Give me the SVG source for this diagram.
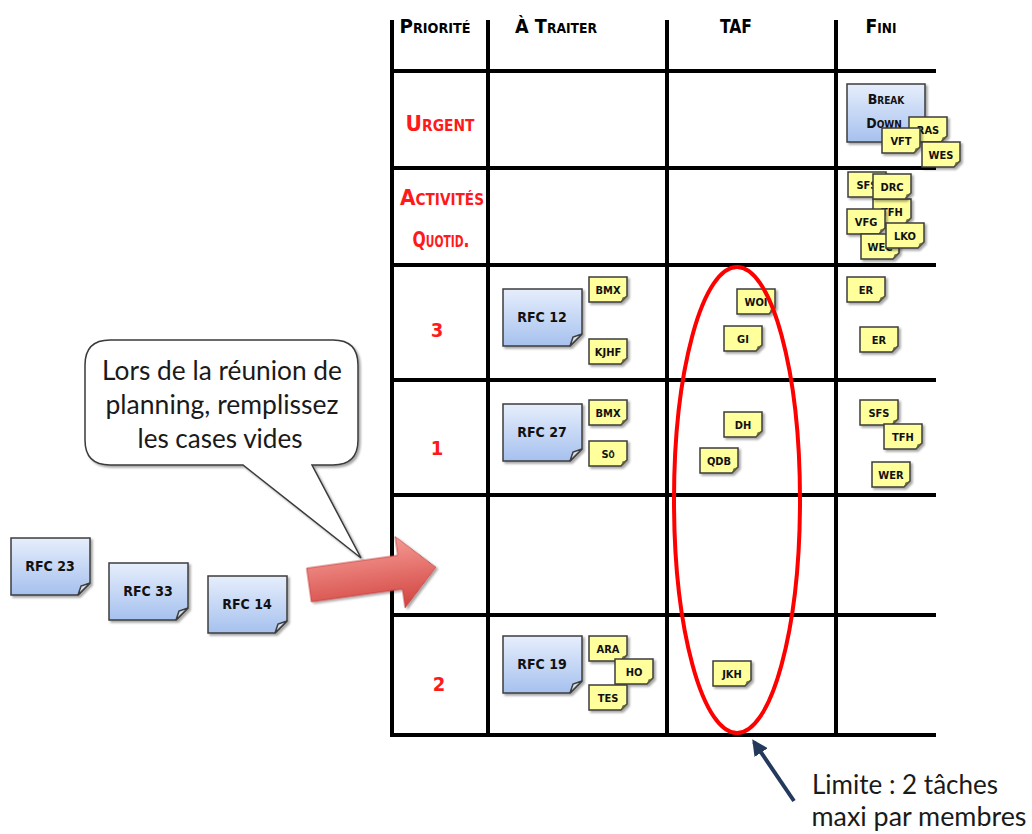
<svg xmlns="http://www.w3.org/2000/svg" xmlns:xlink="http://www.w3.org/1999/xlink" width="1032" height="834" viewBox="0 0 1032 834">
  <style>
    .grid { stroke: #000; stroke-width: 4; stroke-linecap: square; fill: none; }
    .hand { font-family: "DejaVu Sans Condensed", "DejaVu Sans", sans-serif; font-weight: bold; font-variant: small-caps; text-anchor: middle; }
    .head { font-size: 20px; fill: #000; }
    .prio { font-size: 22px; fill: #ff1a1a; }
    .num { font-size: 20px; fill: #ff1a1a; }
    .rfc { font-size: 14px; fill: #111; }
    .tag { font-size: 11px; fill: #111; }
    .note { font-family: "Lato", "Open Sans", sans-serif; font-size: 26px; fill: #1a1a1a; text-anchor: middle; }
    .body { stroke: #3c3c3c; stroke-width: 1.5; }
  </style>
  <defs>
    <linearGradient id="blueFill" x1="0" y1="0" x2="0" y2="1">
      <stop offset="0" stop-color="#e6eefc"/>
      <stop offset="1" stop-color="#a6c1ee"/>
    </linearGradient>
    <linearGradient id="redFill" x1="0" y1="0" x2="0" y2="1">
      <stop offset="0" stop-color="#f59a94"/>
      <stop offset="1" stop-color="#d2433f"/>
    </linearGradient>
    <filter id="shadow" x="-20%" y="-20%" width="150%" height="150%">
      <feDropShadow dx="2" dy="2" stdDeviation="1.2" flood-color="#000" flood-opacity="0.35"/>
    </filter>
    <!-- blue request card with a folded corner -->
    <g id="blueCard">
      <path class="body" d="M0,0 H79 V45 L67,57 H0 Z" fill="url(#blueFill)"/>
      <path class="body" d="M67,57 L79,45 L70,48 Z" fill="#d6deea" stroke-width="1"/>
    </g>
    <g id="bigCard">
      <path class="body" d="M0,0 H78 V46 L66,58 H0 Z" fill="url(#blueFill)"/>
      <path class="body" d="M66,58 L78,46 L69,49 Z" fill="#d6deea" stroke-width="1"/>
    </g>
    <!-- yellow member tag -->
    <g id="tag">
      <path class="body" d="M0,0 H38 V19 L32,25 H0 Z" fill="#ffff9c" stroke-width="1.2"/>
      <path d="M32,25 L38,19 L33.5,20.5 Z" fill="#6b6b40"/>
    </g>
    <marker id="navyHead" viewBox="0 0 10 10" refX="8" refY="5" markerWidth="4" markerHeight="4" orient="auto">
      <path d="M0,0 L10,5 L0,10 Z" fill="#243a5c"/>
    </marker>
  </defs>

  <!-- board grid -->
  <g id="grid" class="grid">
    <line x1="392" y1="22" x2="392" y2="735"/>
    <line x1="488" y1="22" x2="488" y2="735"/>
    <line x1="667" y1="22" x2="667" y2="735"/>
    <line x1="836" y1="22" x2="836" y2="735"/>
    <line x1="392" y1="71" x2="934" y2="71"/>
    <line x1="392" y1="168" x2="934" y2="168"/>
    <line x1="392" y1="265" x2="934" y2="265"/>
    <line x1="392" y1="380" x2="934" y2="380"/>
    <line x1="392" y1="495" x2="934" y2="495"/>
    <line x1="392" y1="615" x2="934" y2="615"/>
    <line x1="392" y1="735" x2="934" y2="735"/>
  </g>

  <!-- column headers -->
  <g id="headers" class="hand head">
    <text x="435" y="33" textLength="71" lengthAdjust="spacingAndGlyphs">Priorité</text>
    <text x="556" y="33" textLength="82" lengthAdjust="spacingAndGlyphs">À Traiter</text>
    <text x="736" y="33" textLength="32" lengthAdjust="spacingAndGlyphs">TAF</text>
    <text x="881" y="33" textLength="31" lengthAdjust="spacingAndGlyphs">Fini</text>
  </g>

  <!-- priority labels -->
  <g id="priorities" class="hand">
    <text class="prio" x="440" y="131" textLength="69" lengthAdjust="spacingAndGlyphs">Urgent</text>
    <text class="prio" x="442" y="205" textLength="84" lengthAdjust="spacingAndGlyphs">Activités</text>
    <text class="prio" x="441" y="247" textLength="57" lengthAdjust="spacingAndGlyphs">Quotid.</text>
    <text class="num" x="437" y="337">3</text>
    <text class="num" x="437" y="455">1</text>
    <text class="num" x="439" y="691">2</text>
  </g>

  <!-- request cards -->
  <g id="rfc12" transform="translate(503,289)"><use xlink:href="#blueCard" filter="url(#shadow)"/><text class="hand rfc" x="39" y="33">RFC 12</text></g>
  <g id="rfc27" transform="translate(503,404)"><use xlink:href="#blueCard" filter="url(#shadow)"/><text class="hand rfc" x="39" y="33">RFC 27</text></g>
  <g id="rfc19" transform="translate(503,636)"><use xlink:href="#blueCard" filter="url(#shadow)"/><text class="hand rfc" x="39" y="33">RFC 19</text></g>
  <g id="rfc23" transform="translate(11,538)"><use xlink:href="#blueCard" filter="url(#shadow)"/><text class="hand rfc" x="39" y="33">RFC 23</text></g>
  <g id="rfc33" transform="translate(109,563)"><use xlink:href="#blueCard" filter="url(#shadow)"/><text class="hand rfc" x="39" y="33">RFC 33</text></g>
  <g id="rfc14" transform="translate(208,576)"><use xlink:href="#blueCard" filter="url(#shadow)"/><text class="hand rfc" x="39" y="33">RFC 14</text></g>
  <g id="breakdown" transform="translate(847,84)"><use xlink:href="#bigCard" filter="url(#shadow)"/><text class="hand rfc" x="39" y="20">Break</text><text class="hand rfc" x="37" y="44">Down</text></g>

  <!-- member tags: Fini / Urgent -->
  <g id="fu-ras" transform="translate(909,117)"><use xlink:href="#tag" filter="url(#shadow)"/><text class="hand tag" x="19" y="17">RAS</text></g>
  <g id="fu-vft" transform="translate(882,128)"><use xlink:href="#tag" filter="url(#shadow)"/><text class="hand tag" x="19" y="17">VFT</text></g>
  <g id="fu-wes" transform="translate(922,142)"><use xlink:href="#tag" filter="url(#shadow)"/><text class="hand tag" x="19" y="17">WES</text></g>

  <!-- member tags: Fini / daily activities -->
  <g id="fa-sfs" transform="translate(848,172)"><use xlink:href="#tag" filter="url(#shadow)"/><text class="hand tag" x="19" y="17">SFS</text></g>
  <g id="fa-tfh" transform="translate(873,199)"><use xlink:href="#tag" filter="url(#shadow)"/><text class="hand tag" x="19" y="17">TFH</text></g>
  <g id="fa-drc" transform="translate(873,174)"><use xlink:href="#tag" filter="url(#shadow)"/><text class="hand tag" x="19" y="17">DRC</text></g>
  <g id="fa-vfg" transform="translate(847,209)"><use xlink:href="#tag" filter="url(#shadow)"/><text class="hand tag" x="19" y="17">VFG</text></g>
  <g id="fa-wec" transform="translate(861,234)"><use xlink:href="#tag" filter="url(#shadow)"/><text class="hand tag" x="19" y="17">WEC</text></g>
  <g id="fa-lko" transform="translate(886,223)"><use xlink:href="#tag" filter="url(#shadow)"/><text class="hand tag" x="19" y="17">LKO</text></g>

  <!-- member tags: priority 3 -->
  <g id="p3-bmx" transform="translate(589,277)"><use xlink:href="#tag" filter="url(#shadow)"/><text class="hand tag" x="19" y="17">BMX</text></g>
  <g id="p3-kjhf" transform="translate(589,339)"><use xlink:href="#tag" filter="url(#shadow)"/><text class="hand tag" x="19" y="17">KJHF</text></g>
  <g id="p3-woi" transform="translate(737,289)"><use xlink:href="#tag" filter="url(#shadow)"/><text class="hand tag" x="19" y="17">WOI</text></g>
  <g id="p3-gi" transform="translate(724,326)"><use xlink:href="#tag" filter="url(#shadow)"/><text class="hand tag" x="19" y="17">GI</text></g>
  <g id="p3-er1" transform="translate(847,277)"><use xlink:href="#tag" filter="url(#shadow)"/><text class="hand tag" x="19" y="17">ER</text></g>
  <g id="p3-er2" transform="translate(860,327)"><use xlink:href="#tag" filter="url(#shadow)"/><text class="hand tag" x="19" y="17">ER</text></g>

  <!-- member tags: priority 1 -->
  <g id="p1-bmx" transform="translate(589,400)"><use xlink:href="#tag" filter="url(#shadow)"/><text class="hand tag" x="19" y="17">BMX</text></g>
  <g id="p1-so" transform="translate(589,441)"><use xlink:href="#tag" filter="url(#shadow)"/><text class="hand tag" x="19" y="17">Sö</text></g>
  <g id="p1-dh" transform="translate(724,412)"><use xlink:href="#tag" filter="url(#shadow)"/><text class="hand tag" x="19" y="17">DH</text></g>
  <g id="p1-qdb" transform="translate(700,448)"><use xlink:href="#tag" filter="url(#shadow)"/><text class="hand tag" x="19" y="17">QDB</text></g>
  <g id="p1-sfs" transform="translate(860,400)"><use xlink:href="#tag" filter="url(#shadow)"/><text class="hand tag" x="19" y="17">SFS</text></g>
  <g id="p1-tfh" transform="translate(884,424)"><use xlink:href="#tag" filter="url(#shadow)"/><text class="hand tag" x="19" y="17">TFH</text></g>
  <g id="p1-wer" transform="translate(872,462)"><use xlink:href="#tag" filter="url(#shadow)"/><text class="hand tag" x="19" y="17">WER</text></g>

  <!-- member tags: priority 2 -->
  <g id="p2-ara" transform="translate(589,636)"><use xlink:href="#tag" filter="url(#shadow)"/><text class="hand tag" x="19" y="17">ARA</text></g>
  <g id="p2-ho" transform="translate(615,659)"><use xlink:href="#tag" filter="url(#shadow)"/><text class="hand tag" x="19" y="17">HO</text></g>
  <g id="p2-tes" transform="translate(589,685)"><use xlink:href="#tag" filter="url(#shadow)"/><text class="hand tag" x="19" y="17">TES</text></g>
  <g id="p2-jkh" transform="translate(713,661)"><use xlink:href="#tag" filter="url(#shadow)"/><text class="hand tag" x="19" y="17">JKH</text></g>

  <!-- speech bubble -->
  <g id="callout">
    <path d="M110,340 H333 Q358,340 358,365 V440 Q358,465 333,465 H312 L361,558 L243,465 H110 Q85,465 85,440 V365 Q85,340 110,340 Z" fill="#fff" stroke="#3a3a3a" stroke-width="1.5" filter="url(#shadow)"/>
    <text class="note" x="222" y="380" textLength="240" lengthAdjust="spacingAndGlyphs">Lors de la réunion de</text>
    <text class="note" x="222" y="414" textLength="233" lengthAdjust="spacingAndGlyphs">planning, remplissez</text>
    <text class="note" x="220" y="448" textLength="165" lengthAdjust="spacingAndGlyphs">les cases vides</text>
  </g>

  <!-- limit note -->
  <g id="limit">
    <text class="note" x="905" y="794" textLength="186" lengthAdjust="spacingAndGlyphs">Limite : 2 tâches</text>
    <text class="note" x="919" y="826" textLength="215" lengthAdjust="spacingAndGlyphs">maxi par membres</text>
  </g>

  <!-- connectors -->
  <g id="connectors">
    <path d="M0,-17 H92 V-36 L128,0 L92,36 V17 H0 Z" transform="translate(309,585) rotate(-8)" fill="url(#redFill)" stroke="#c04040" stroke-width="0.8" filter="url(#shadow)"/>
    <ellipse cx="737" cy="500" rx="63" ry="233" fill="none" stroke="#ff0000" stroke-width="4"/>
    <line x1="794" y1="801" x2="754" y2="742" stroke="#243a5c" stroke-width="4" marker-end="url(#navyHead)"/>
  </g>
</svg>
